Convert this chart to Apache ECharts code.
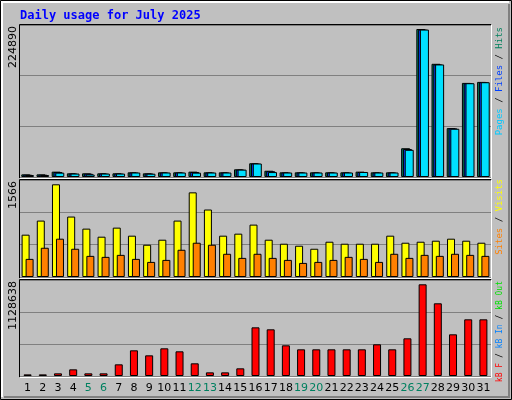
<!DOCTYPE html>
<html><head><meta charset="utf-8">
<script src="https://cdn.jsdelivr.net/npm/echarts@6/dist/echarts.min.js"></script>
<style>html,body{margin:0;padding:0;background:#fff}#c{width:512px;height:400px}</style>
</head><body><div id="c"></div>
<script>
const days = ['1','2','3','4','5','6','7','8','9','10','11','12','13','14','15','16','17','18','19','20','21','22','23','24','25','26','27','28','29','30','31'];
const weekendDays = ['5','6','12','13','19','20','26','27'];
const hits  = [4000,4000,8100,5600,5600,5600,5600,7100,5600,7100,7100,8100,7100,7100,11700,20900,9500,7100,7100,7100,7100,7100,8100,7100,7100,43700,224890,172000,74300,143000,144500];
const files = [3500,3500,7500,5200,5000,5200,5200,6800,5200,6800,6800,7600,6800,6800,11200,20500,8800,6800,6800,6800,6800,6800,7600,6800,6800,42500,224000,171000,73800,142500,144000];
const pages = [3000,3000,6600,5200,3800,5200,5200,6800,5000,6800,6800,6600,6800,6800,11200,20500,7500,6800,6800,6800,6800,6800,7600,6800,6800,41300,224000,171000,73300,142500,144000];
const visits = [715,953,1566,1021,817,681,834,698,545,630,953,1430,1140,698,732,885,630,562,528,477,596,562,562,562,698,579,596,613,647,613,579];
const sites  = [306,494,647,477,357,340,374,306,255,289,460,579,545,392,323,392,323,289,238,255,289,340,306,255,392,323,374,357,392,374,357];
const kbF = [20000,20000,32800,82000,32800,32800,143600,316000,254400,340600,303700,156000,45000,45000,94400,599000,574600,377600,328300,328300,328300,328300,328300,390000,328300,463700,1128638,894700,513000,697700,697700];
const maxLabels = ['224890','1566','1128638'];

const L=20, W=471;
const panels=[{top:25,h:152,max:224890*152/148},{top:180,h:97,max:1566*97/92.7},{top:280,h:96,max:1128638*96/91.7}];
const grids=panels.map(p=>({left:L,top:p.top,width:W,height:p.h}));
const xAxes=panels.map((p,i)=>({type:'category',gridIndex:i,data:days,boundaryGap:true,
  axisLine:{show:false},axisTick:{show:false},
  axisLabel:{show:i===2,interval:0,margin:7,fontFamily:'DejaVu Sans',fontSize:11,color:'#000',
    formatter:v=>weekendDays.includes(v)?'{w|'+v+'}':v,rich:{w:{color:'#008060',fontFamily:'DejaVu Sans',fontSize:11}}}}));
const yAxes=panels.map((p,i)=>({type:'value',gridIndex:i,min:0,max:p.max,interval:p.max/3,
  axisLabel:{show:false},axisLine:{show:false},axisTick:{show:false},
  splitLine:{show:true,lineStyle:{color:'#808080',width:1}}}));
const bs={borderColor:'#000',borderWidth:1};
const series=[
 {type:'bar',xAxisIndex:0,yAxisIndex:0,data:hits,barWidth:9,barGap:'-80%',itemStyle:{color:'#00805c',...bs}},
 {type:'bar',xAxisIndex:0,yAxisIndex:0,data:files,barWidth:9,barGap:'-80%',itemStyle:{color:'#0040ff',...bs}},
 {type:'bar',xAxisIndex:0,yAxisIndex:0,data:pages,barWidth:9,barGap:'-80%',itemStyle:{color:'#00e0ff',...bs}},
 {type:'bar',xAxisIndex:1,yAxisIndex:1,data:visits,barWidth:8,barGap:'-50%',itemStyle:{color:'#ffff00',...bs}},
 {type:'bar',xAxisIndex:1,yAxisIndex:1,data:sites,barWidth:8,barGap:'-50%',itemStyle:{color:'#ff8000',...bs}},
 {type:'bar',xAxisIndex:2,yAxisIndex:2,data:kbF,barWidth:8,itemStyle:{color:'#ff0000',...bs}}
];
const g=[];
g.push({type:'rect',shape:{x:0.5,y:0.5,width:511,height:399},style:{fill:'none',stroke:'#000',lineWidth:1},z:-1});
g.push({type:'polyline',shape:{points:[[2,397],[2,2],[509,2]]},style:{fill:'none',stroke:'#fff',lineWidth:2},z:-1});
g.push({type:'polyline',shape:{points:[[4,397],[509,397],[509,4]]},style:{fill:'none',stroke:'#808080',lineWidth:2},z:-1});
panels.forEach(p=>{
  const t=p.top-0.5,b=p.top+p.h+1.5,l=L-0.5,r=L+W+0.5;
  g.push({type:'polyline',shape:{points:[[l,b],[l,t],[r,t]]},style:{fill:'none',stroke:'#000',lineWidth:1},z:10});
  g.push({type:'polyline',shape:{points:[[l,b],[r,b],[r,t]]},style:{fill:'none',stroke:'#fff',lineWidth:1},z:10});
});
maxLabels.forEach((s,i)=>{
  g.push({type:'text',x:13,y:panels[i].top+1,rotation:Math.PI/2,
    style:{text:s,textAlign:'right',textVerticalAlign:'middle',fontFamily:'DejaVu Sans',fontSize:11,fill:'#000'}});
});
const rl=[
 {t:'{p|Pages} / {f|Files} / {h|Hits}',y:27,fs:9,rich:{p:{fill:'#00c8ff'},f:{fill:'#0040ff'},h:{fill:'#00805c'}}},
 {t:'{s|Sites} / {v|Visits}',y:179,fs:9,rich:{s:{fill:'#ff8000'},v:{fill:'#ffff00'}}},
 {t:'{f|kB F} / {i|kB In} / {o|kB Out}',y:281,fs:8,rich:{f:{fill:'#ff0000'},i:{fill:'#0080ff'},o:{fill:'#00e000'}}}
];
rl.forEach(o=>{
  Object.values(o.rich).forEach(r=>{r.fontFamily='DejaVu Sans Mono';r.fontSize=o.fs;});
  g.push({type:'text',x:500,y:o.y,rotation:Math.PI/2,
    style:{text:o.t,rich:o.rich,textAlign:'right',textVerticalAlign:'middle',fontFamily:'DejaVu Sans Mono',fontSize:o.fs,fill:'#000'}});
});
g.push({type:'text',x:20,y:16,style:{text:'Daily usage for July 2025',fontFamily:'DejaVu Sans Mono',fontWeight:'bold',fontSize:12,fill:'#0000ff',textVerticalAlign:'middle'}});
const chart=echarts.init(document.getElementById('c'),null,{renderer:'canvas'});
chart.setOption({backgroundColor:'#c0c0c0',animation:false,grid:grids,xAxis:xAxes,yAxis:yAxes,series,graphic:g});
</script></body></html>
